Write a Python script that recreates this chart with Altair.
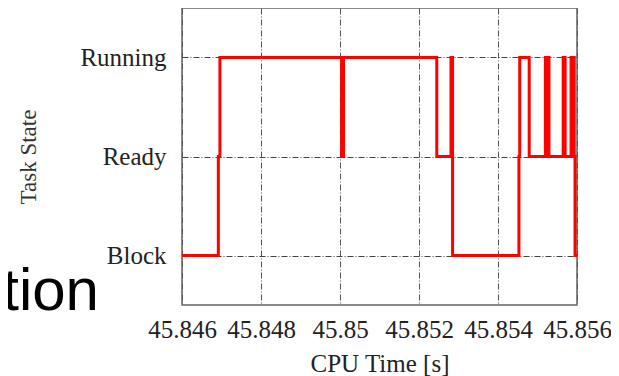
import altair as alt
import pandas as pd

# Task-state trace (state codes: 0=Block, 1=Ready, 2=Running)
state_names = ["Block", "Ready", "Running"]
times = [45.84600, 45.84692, 45.84696,
         45.85004, 45.85005, 45.85006, 45.85007, 45.85008, 45.85009,
         45.85245, 45.85281, 45.85285,
         45.85453, 45.85455, 45.85479,
         45.85520, 45.85522, 45.85524, 45.85526, 45.85528, 45.85529,
         45.85565, 45.85566, 45.85567, 45.85568, 45.85569, 45.85570,
         45.85585, 45.85586, 45.85587, 45.85588, 45.85589, 45.85590, 45.85591, 45.85593,
         45.85595, 45.85600]
states = [0, 1, 2,
          1, 2, 1, 2, 1, 2,
          1, 2, 0,
          1, 2, 1,
          2, 1, 2, 1, 2, 1,
          2, 1, 2, 1, 2, 1,
          2, 1, 2, 1, 2, 1, 2, 1,
          0, 0]
x_ticks = [45.846, 45.848, 45.850, 45.852, 45.854, 45.856]
overlay_text = ["tion"]

df = pd.DataFrame({"t": times, "s": states})
label_expr = "datum.value == 0 ? '%s' : datum.value == 1 ? '%s' : '%s'" % tuple(state_names)

serif = "Liberation Serif"
grid_dash = [6, 2, 1, 2]

line = alt.Chart(df).mark_line(
    interpolate="step-after", color="#ff0000", strokeWidth=3, clip=True
).encode(
    x=alt.X("t:Q", scale=alt.Scale(domain=[45.846, 45.856], nice=False, zero=False),
            axis=alt.Axis(values=x_ticks, format=".3~f", title="CPU Time [s]",
                          labelFont=serif, labelFontSize=25, labelColor="#222",
                          labelPadding=12, titleFont=serif, titleFontSize=25,
                          titleFontWeight="normal", titleColor="#222", titlePadding=9,
                          ticks=False, domain=False, grid=True, gridDash=grid_dash,
                          gridColor="#555", gridOpacity=1, labelFlush=False)),
    y=alt.Y("s:Q", scale=alt.Scale(domain=[-0.5, 2.5], nice=False, zero=False),
            axis=alt.Axis(values=[0, 1, 2], labelExpr=label_expr, title="Task State",
                          labelFont=serif, labelFontSize=25, labelColor="#222",
                          labelPadding=16, titleFont=serif, titleFontSize=23,
                          titleFontWeight="normal", titleColor="#333", titlePadding=39,
                          ticks=False, domain=False, grid=True, gridDash=grid_dash,
                          gridColor="#444", gridOpacity=1)),
)

txt = alt.Chart(pd.DataFrame({"w": overlay_text})).mark_text(
    font="Liberation Sans", fontSize=60, color="#000", align="right",
    baseline="alphabetic"
).encode(text="w:N", x=alt.value(-83), y=alt.value(302))

chart = alt.layer(line, txt).properties(
    width=395, height=297,
    autosize=alt.AutoSizeParams(type="none"),
    padding={"left": 174, "top": 0, "right": 34, "bottom": 72},
).configure_view(stroke="#666", strokeWidth=1.5)

chart.save("out.html", embed_options={"renderer": "svg", "actions": False})
